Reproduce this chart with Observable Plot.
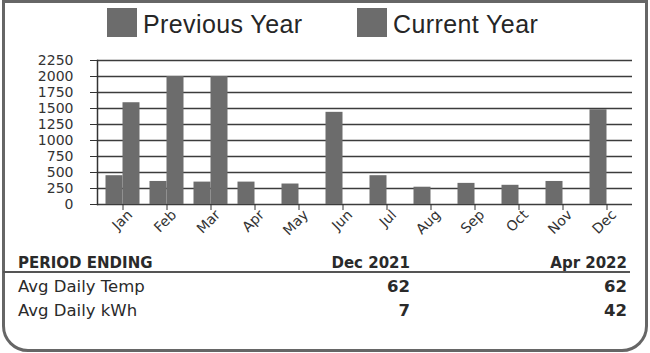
<!DOCTYPE html>
<html>
<head>
<meta charset="utf-8">
<script src="https://cdn.jsdelivr.net/npm/d3@7"></script>
<script src="https://cdn.jsdelivr.net/npm/@observablehq/plot@0.6"></script>
<style>
  html, body { margin: 0; padding: 0; background: #fff; }
  body {
    width: 650px; height: 353px; position: relative; overflow: hidden;
    font-family: "DejaVu Sans", sans-serif; color: #2a2a2a;
  }
  .frame {
    position: absolute; left: 2px; top: 0; width: 646px; height: 352px;
    box-sizing: border-box; border: 3px solid #666; border-radius: 0 0 26px 26px;
  }
  .legend-item { position: absolute; top: 8px; height: 29px; }
  .swatch { position: absolute; left: 0; top: 0; width: 30px; height: 29px; background: #6c6c6c; }
  .legend-label {
    position: absolute; left: 36px; top: 4px; white-space: nowrap; letter-spacing: 0.4px;
    font: 25px/25px "Liberation Sans", Arial, sans-serif; color: #262626;
  }
  #chart { position: absolute; left: 0; top: 46px; }
  .cell { position: absolute; white-space: nowrap; line-height: 1; }
  .head { font-weight: bold; font-size: 15px; }
  .label { font-size: 16.5px; }
  .value { font-weight: bold; font-size: 16.5px; }
  .divider { position: absolute; left: 3px; top: 271px; width: 627px; height: 2px; background: #555; }
</style>
</head>
<body>
<div class="frame"></div>
<div id="legend"></div>
<div id="chart"></div>
<div id="table"></div>
<script>
// Monthly kWh usage
const months = ["Jan", "Feb", "Mar", "Apr", "May", "Jun", "Jul", "Aug", "Sep", "Oct", "Nov", "Dec"];
const previousYear = [450, 360, 350, 350, 320, 1440, 450, 270, 330, 300, 360, 1480];
const currentYear = [1590, 2000, 2000, 0, null, null, null, null, null, null, null, null];
const yTicks = [0, 250, 500, 750, 1000, 1250, 1500, 1750, 2000, 2250];
const seriesNames = ["Previous Year", "Current Year"];

// Summary table
const periodColumns = ["Dec 2021", "Apr 2022"];
const rowLabels = ["Avg Daily Temp", "Avg Daily kWh"];
const avgDailyTemp = [62, 62];
const avgDailyKwh = [7, 42];

const barGray = "#6c6c6c";

const prevRows = months.map((m, i) => ({month: m, value: previousYear[i]}));
const curRows = months.map((m, i) => ({month: m, value: currentYear[i]})).filter(d => d.value != null);

// Legend
const legend = document.getElementById("legend");
[107, 357].forEach((left, i) => {
  const item = document.createElement("div");
  item.className = "legend-item";
  item.style.left = left + "px";
  item.innerHTML = `<div class="swatch"></div><div class="legend-label">${seriesNames[i]}</div>`;
  legend.appendChild(item);
});

// Chart
const chart = Plot.plot({
  width: 650,
  height: 204,
  marginTop: 14,
  marginBottom: 46,
  marginLeft: 97,
  marginRight: 18,
  style: {fontFamily: "'DejaVu Sans', sans-serif", fontSize: "14px", color: "#333", background: "transparent"},
  x: {domain: months, paddingInner: 0.619, paddingOuter: 0.325, label: null},
  y: {domain: [0, 2250], label: null},
  marks: [
    Plot.gridY(yTicks, {stroke: "#3c3c3c", strokeOpacity: 1, strokeWidth: 1.4}),
    Plot.barY(prevRows, {x: "month", y: "value", fill: barGray, dx: -8.5}),
    Plot.barY(curRows, {x: "month", y: "value", fill: barGray, dx: 8.5}),
    Plot.frame({anchor: "left", stroke: "#333", strokeWidth: 1.5}),
    Plot.axisY(yTicks, {tickSize: 7, tickPadding: 17, tickFormat: d => String(d), fontSize: 14, label: null, stroke: "#333"}),
    // month tick marks
    Plot.axisX({tickSize: 6, tickFormat: () => "", label: null, stroke: "#333"}),
    // rotated month names
    Plot.axisX({tickSize: 0, tickRotate: -45, tickPadding: 8, dx: 7, fontSize: 14, label: null})
  ]
});
document.getElementById("chart").appendChild(chart);

// Summary table
const table = document.getElementById("table");
function cell(text, cls, top, pos) {
  const el = document.createElement("div");
  el.className = "cell " + cls;
  el.textContent = text;
  el.style.top = top + "px";
  Object.assign(el.style, pos);
  table.appendChild(el);
}
const colRight = [240, 23];
cell("PERIOD ENDING", "head", 256.3, {left: "18px"});
periodColumns.forEach((p, i) => cell(p, "head", 256.3, {right: colRight[i] + "px"}));
const rows = [avgDailyTemp, avgDailyKwh];
const rowTops = [279, 303];
rowLabels.forEach((lab, r) => {
  cell(lab, "label", rowTops[r], {left: "18px"});
  rows[r].forEach((v, i) => cell(String(v), "value", rowTops[r], {right: colRight[i] + "px"}));
});
const divider = document.createElement("div");
divider.className = "divider";
table.appendChild(divider);
</script>
</body>
</html>
